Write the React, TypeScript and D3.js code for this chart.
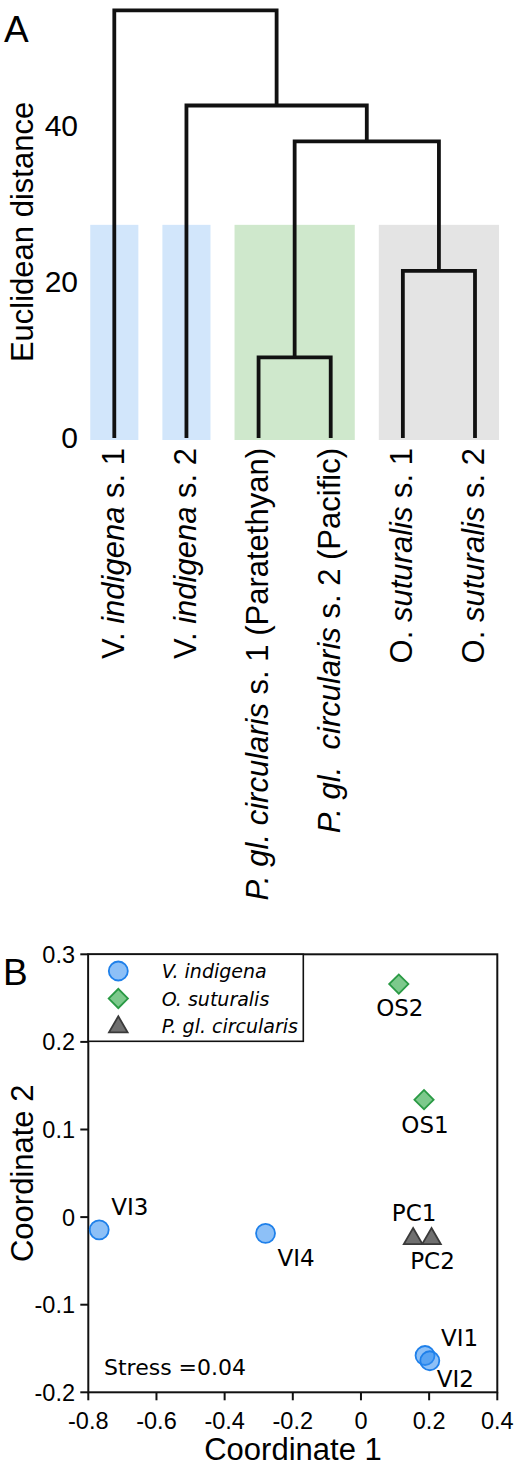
import * as React from "react"
import * as d3 from "d3"

const W = 516
const H = 1467

// ---- panel A: dendrogram ----
const leafIds = ["VI1", "VI2", "PC1", "PC2", "OS1", "OS2"]
const leafLabels = [
  [["V. ", false], ["indigena", true], [" s. 1", false]],
  [["V. ", false], ["indigena", true], [" s. 2", false]],
  [["P. gl. circularis", true], [" s. 1 (Paratethyan)", false]],
  [["P. gl.  circularis", true], [" s. 2 (Pacific)", false]],
  [["O. ", false], ["suturalis", true], [" s. 1", false]],
  [["O. ", false], ["suturalis", true], [" s. 2", false]],
]
// merges: [left, right, name, height]
const merges = [
  ["PC1", "PC2", "PC", 10.2],
  ["OS1", "OS2", "OS", 21.3],
  ["PC", "OS", "PCOS", 37.9],
  ["VI2", "PCOS", "VI2PCOS", 42.5],
  ["VI1", "VI2PCOS", "root", 54.7],
]
const groupLeaves = [["VI1"], ["VI2"], ["PC1", "PC2"], ["OS1", "OS2"]]
const groupColors = ["#d2e6fb", "#d2e6fb", "#cfe8cc", "#e4e4e4"]
const dendroTicks = [0, 20, 40]
const shadeTop = 27.2

// ---- panel B: nMDS ----
const species = ["V. indigena", "O. suturalis", "P. gl. circularis"]
const pointNames = ["OS2", "OS1", "VI3", "VI4", "PC1", "PC2", "VI1", "VI2"]
const pointSpecies = [1, 1, 0, 0, 2, 2, 0, 0]
const coord1 = [0.111, 0.185, -0.768, -0.28, 0.153, 0.207, 0.188, 0.202]
const coord2 = [0.266, 0.134, -0.0145, -0.0185, -0.0235, -0.0235, -0.158, -0.164]
const xTicks = [-0.8, -0.6, -0.4, -0.2, 0, 0.2, 0.4]
const yTicks = [-0.2, -0.1, 0, 0.1, 0.2, 0.3]
const stressText = "Stress =0.04"

// label placement (dx, baseline dy, anchor)
const labelPos = {
  OS2: [1, 32, "middle"],
  OS1: [1, 33, "middle"],
  VI3: [12, -15, "start"],
  VI4: [12, 33, "start"],
  PC1: [1, -17, "middle"],
  PC2: [1, 31, "middle"],
  VI1: [16, -10, "start"],
  VI2: [7, 26, "start"],
}

const ARIAL = "'Liberation Sans', Arial, sans-serif"
const VERDANA = "'DejaVu Sans', Verdana, sans-serif"

const sym = {
  fill: ["#2f8cf0", "#5dbb6f", "#6f6f6f"],
  fillOpacity: [0.55, 0.8, 1],
  stroke: ["#1f80ea", "#2a9a45", "#3a3a3a"],
}

function Marker({ kind, x, y }: { kind: number; x: number; y: number }) {
  const common = {
    fill: sym.fill[kind],
    fillOpacity: sym.fillOpacity[kind],
    stroke: sym.stroke[kind],
    strokeWidth: 1.8,
  }
  if (kind === 0) return <circle cx={x} cy={y} r={9.5} {...common} />
  if (kind === 1)
    return (
      <path
        d={d3.symbol(d3.symbolSquare, 185)() as string}
        transform={`translate(${x},${y}) rotate(45)`}
        {...common}
      />
    )
  return (
    <path
      d={d3.symbol(d3.symbolTriangle, 150)() as string}
      transform={`translate(${x},${y + 1})`}
      {...common}
    />
  )
}

export default function App() {
  // dendrogram scales
  const xLeaf = d3.scalePoint().domain(leafIds).range([114.3, 475])
  const yD = d3.scaleLinear().domain([0, 40]).range([437, 125])
  const step = xLeaf.step()

  const pos: Record<string, { x: number; h: number }> = {}
  leafIds.forEach(id => (pos[id] = { x: xLeaf(id) as number, h: 0 }))
  merges.forEach(([a, b, n, h]) => {
    pos[n as string] = { x: (pos[a as string].x + pos[b as string].x) / 2, h: h as number }
  })

  const links = merges.map(([a, b, n]) => {
    const pa = pos[a as string], pb = pos[b as string], pn = pos[n as string]
    const ya = pa.h === 0 ? yD(0) + 1 : yD(pa.h)
    const yb = pb.h === 0 ? yD(0) + 1 : yD(pb.h)
    return `M${pa.x},${ya}V${yD(pn.h)}H${pb.x}V${yb}`
  })

  // scatter scales
  const x = d3.scaleLinear().domain([-0.8, 0.4]).range([88.3, 497.3])
  const y = d3.scaleLinear().domain([-0.2, 0.3]).range([1392.3, 954.3])
  const fmt = (t: number) => (t === 0 ? "0" : d3.format(".1f")(t).replace("−", "-"))

  return (
    <svg
      width={W}
      height={H}
      style={{ position: "absolute", left: 0, top: 0, background: "#fff" }}
    >
      <rect width={W} height={H} fill="#fff" />
      {/* Panel A */}
      <text x={4} y={42} fontFamily={ARIAL} fontSize={37}>A</text>
      {groupLeaves.map((g, i) => {
        const x0 = (xLeaf(g[0]) as number) - step / 3
        const x1 = (xLeaf(g[g.length - 1]) as number) + step / 3
        return (
          <rect
            key={i}
            x={x0}
            y={yD(shadeTop)}
            width={x1 - x0}
            height={yD(0) + 3 - yD(shadeTop)}
            fill={groupColors[i]}
          />
        )
      })}
      {links.map((d, i) => (
        <path key={i} d={d} fill="none" stroke="#111" strokeWidth={3.8} strokeLinejoin="miter" />
      ))}
      {dendroTicks.map(t => (
        <text
          key={t}
          x={78}
          y={yD(t)}
          dy="0.36em"
          textAnchor="end"
          fontFamily={ARIAL}
          fontSize={30}
        >
          {t}
        </text>
      ))}
      <text
        transform={`translate(33,232) rotate(-90)`}
        textAnchor="middle"
        fontFamily={ARIAL}
        fontSize={31}
      >
        Euclidean distance
      </text>
      {leafIds.map((id, i) => (
        <text
          key={id}
          transform={`translate(${xLeaf(id)},448) rotate(-90)`}
          dy="0.3em"
          textAnchor="end"
          fontFamily={ARIAL}
          fontSize={31}
        >
          {leafLabels[i].map(([s, it], j) => (
            <tspan key={j} fontStyle={it ? "italic" : "normal"} style={{ whiteSpace: "pre" }}>
              {s as string}
            </tspan>
          ))}
        </text>
      ))}

      {/* Panel B */}
      <text x={3} y={985} fontFamily={ARIAL} fontSize={37}>B</text>
      {yTicks.map(t => (
        <g key={t}>
          <line x1={x(-0.8) - 8} x2={x(-0.8)} y1={y(t)} y2={y(t)} stroke="#111" strokeWidth={2} />
          <text
            x={75}
            y={y(t)}
            dy="0.36em"
            textAnchor="end"
            fontFamily={ARIAL}
            fontSize={23.5}
          >
            {fmt(t)}
          </text>
        </g>
      ))}
      {xTicks.map(t => (
        <g key={t}>
          <line x1={x(t)} x2={x(t)} y1={y(-0.2)} y2={y(-0.2) + 8} stroke="#111" strokeWidth={2} />
          <text x={x(t)} y={1429} textAnchor="middle" fontFamily={ARIAL} fontSize={23.5}>
            {fmt(t)}
          </text>
        </g>
      ))}
      <rect
        x={x(-0.8)}
        y={y(0.3)}
        width={x(0.4) - x(-0.8)}
        height={y(-0.2) - y(0.3)}
        fill="none"
        stroke="#111"
        strokeWidth={2}
      />
      <text x={293} y={1460} textAnchor="middle" fontFamily={ARIAL} fontSize={31}>
        Coordinate 1
      </text>
      <text
        transform={`translate(33,${(y(0.3) + y(-0.2)) / 2}) rotate(-90)`}
        textAnchor="middle"
        fontFamily={ARIAL}
        fontSize={31}
      >
        Coordinate 2
      </text>

      {/* legend */}
      <rect x={x(-0.8)} y={y(0.3)} width={215} height={87} fill="#fff" stroke="#111" strokeWidth={1.6} />
      {species.map((s, i) => (
        <g key={s}>
          <Marker kind={i} x={118.3} y={971 + i * 27.5} />
          <text
            x={161.7}
            y={971 + i * 27.5 + 7}
            fontFamily={VERDANA}
            fontStyle="italic"
            fontSize={19}
          >
            {s}
          </text>
        </g>
      ))}

      {pointNames.map((n, i) => (
        <Marker key={n} kind={pointSpecies[i]} x={x(coord1[i])} y={y(coord2[i])} />
      ))}
      {pointNames.map((n, i) => {
        const [dx, dy, anchor] = labelPos[n as keyof typeof labelPos]
        return (
          <text
            key={n}
            x={x(coord1[i]) + (dx as number)}
            y={y(coord2[i]) + (dy as number)}
            textAnchor={anchor as string}
            fontFamily={VERDANA}
            fontSize={23}
          >
            {n}
          </text>
        )
      })}
      <text x={104} y={1375} fontFamily={VERDANA} fontSize={22}>
        {stressText}
      </text>
    </svg>
  )
}
